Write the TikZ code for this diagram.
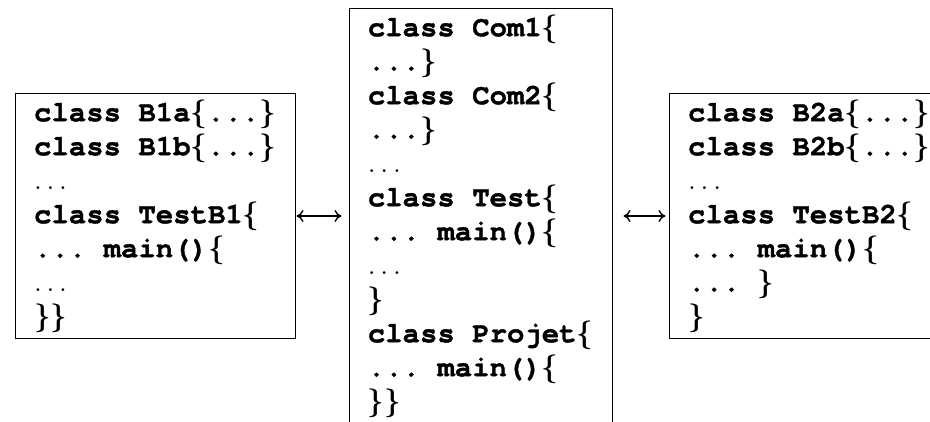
\documentclass[tikz,border=0pt]{standalone}
\usepackage{fontspec}
\setmonofont[BoldFeatures={FakeBold=1.2}]{TeX Gyre Cursor}
\usetikzlibrary{positioning,arrows.meta}
\newcommand{\lbr}{{\boldmath$\{$}}
\newcommand{\rbr}{{\boldmath$\}$}}
\newcommand{\skipline}{{\rmfamily\mdseries\fontsize{14}{17}\selectfont$\ldots$}}

\begin{document}
\begin{tikzpicture}[x=0.5pt, y=-0.5pt,
      code/.style={draw, line width=0.5pt, align=left, inner xsep=0pt, inner ysep=3pt,
                   font=\fontsize{14.5}{17}\selectfont\ttfamily\bfseries},
      link/.style={<->, line width=0.7pt},
      >={To[length=3.5pt, width=6pt]}, node distance=27pt]
    \useasboundingbox (0,0) rectangle (930,422);
    \node[code, minimum width=131.5pt] (prog) at (480.5,216)
      {class Com1\lbr\\ ...\rbr\\ class Com2\lbr\\ ...\rbr\\ \skipline\\
       class Test\lbr\\ ... main()\lbr\\ \skipline\\ \rbr\\
       class Projet\lbr\\ ... main()\lbr\\ \rbr\rbr};
    \node[code, minimum width=140pt, left=26.5pt of prog] (b1)
      {class B1a\lbr...\rbr\\ class B1b\lbr...\rbr\\ \skipline\\
       class TestB1\lbr\\ ... main()\lbr\\ \skipline\\ \rbr\rbr};
    \node[code, minimum width=140pt, right=28pt of prog] (b2)
      {class B2a\lbr...\rbr\\ class B2b\lbr...\rbr\\ \skipline\\
       class TestB2\lbr\\ ... main()\lbr\\ ... \rbr\\ \rbr};
    \draw[link, shorten <=0.5pt, shorten >=3.5pt] (b1.east) -- (prog.west);
    \draw[link, shorten <=5.5pt, shorten >=1.5pt] (prog.east) -- (b2.west);
  \end{tikzpicture}
\end{document}
